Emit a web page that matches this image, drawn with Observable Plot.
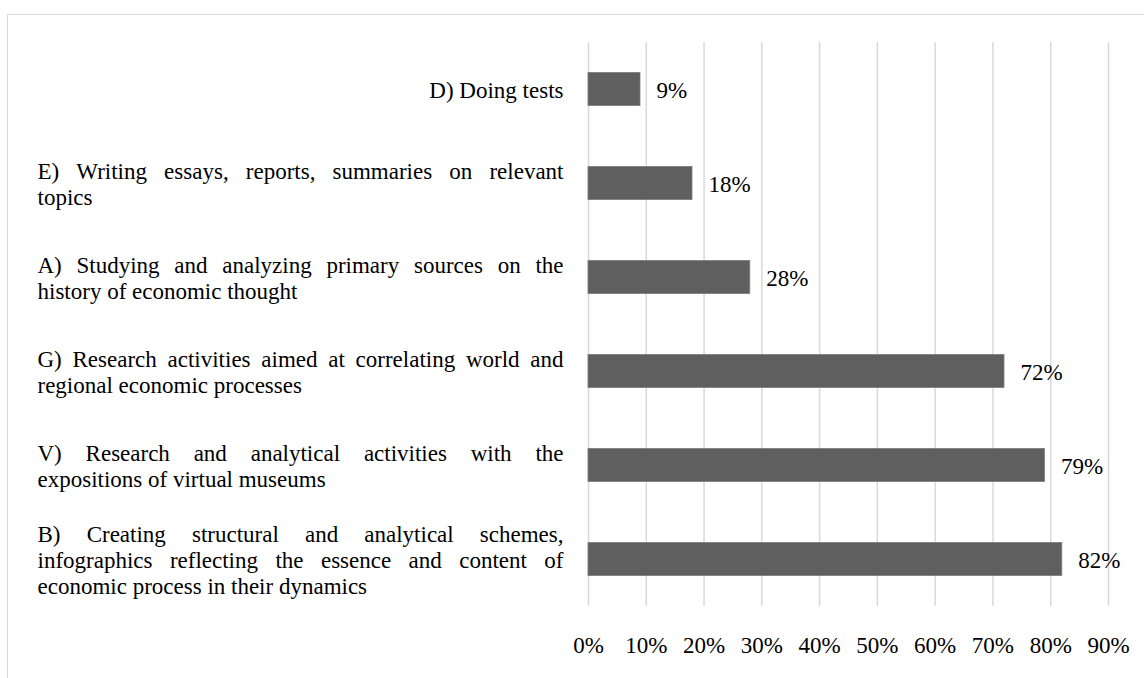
<!DOCTYPE html>
<html>
<head>
<meta charset="utf-8">
<script src="https://cdn.jsdelivr.net/npm/d3@7"></script>
<script src="https://cdn.jsdelivr.net/npm/@observablehq/plot@0.6"></script>
<style>
  html, body { margin: 0; padding: 0; background: #fff; overflow: hidden; }
  #wrap { position: relative; width: 1144px; height: 678px; overflow: hidden; }
  #frame { position: absolute; left: 7px; top: 14px; width: 2000px; height: 2000px;
           border: 1.5px solid #d9d9d9; box-sizing: border-box; pointer-events: none; }
  #chart { position: absolute; left: 0; top: 0; }
</style>
</head>
<body>
<div id="wrap"><div id="frame"></div><div id="chart"></div></div>
<script>
const categories = [
  "D) Doing tests",
  "E) Writing essays, reports, summaries on relevant\ntopics",
  "A) Studying and analyzing primary sources on the\nhistory of economic thought",
  "G) Research activities aimed at correlating world and\nregional economic processes",
  "V) Research and analytical activities with the\nexpositions of virtual museums",
  "B) Creating structural and analytical schemes,\ninfographics reflecting the essence and content of\neconomic process in their dynamics"
];
const values = [0.09, 0.18, 0.28, 0.72, 0.79, 0.82];
const xTicks = [0, 0.1, 0.2, 0.3, 0.4, 0.5, 0.6, 0.7, 0.8, 0.9];

const data = categories.map((c, i) => ({category: c, value: values[i]}));
const serif = "Liberation Serif";
const fs = 23;

const chart = Plot.plot({
  width: 1144,
  height: 678,
  marginLeft: 588,
  marginRight: 36,
  marginTop: 42,
  marginBottom: 72,
  style: {"font-family": serif, "font-size": fs + "px", "color": "#000", "background": "transparent"},
  x: {domain: [0, 0.9], ticks: xTicks, tickFormat: d3.format(".0%")},
  y: {domain: categories, padding: 0, axis: null},
  marks: [
    Plot.ruleX(xTicks, {stroke: "#d9d9d9", strokeWidth: 1.5}),
    Plot.barX(data, {x: "value", y: "category", fill: "#5f5f5f", stroke: "#7a7a7a", strokeWidth: 0.8, insetTop: 30.5, insetBottom: 30.5}),
    Plot.text(data, {x: "value", y: "category", text: d => d3.format(".0%")(d.value), textAnchor: "start", dx: 16, dy: 1, fontSize: fs, fontFamily: serif, fill: "#000"}),
    Plot.text(data, {y: "category", text: "category", frameAnchor: "left", textAnchor: "end", dx: -25, dy: 0, lineHeight: 1.15, fontSize: fs, fontFamily: serif, fill: "#000"}),
    Plot.axisX({ticks: xTicks, tickFormat: d3.format(".0%"), tickSize: 0, tickPadding: 30, fontSize: fs, fontFamily: serif, fill: "#000", label: null})
  ]
});

document.getElementById("chart").appendChild(chart);

// Justify multi-line category labels: full lines spread to the block width, last line left-aligned
const targetWidth = 526;
const NS = "http://www.w3.org/2000/svg";
Array.from(chart.querySelectorAll("text")).forEach(t => {
  const spans = Array.from(t.querySelectorAll("tspan"));
  if (spans.length < 2) return;
  spans.forEach((s, i) => {
    if (i === spans.length - 1) {
      s.setAttribute("x", -targetWidth);
      s.setAttribute("text-anchor", "start");
      s.style.textAnchor = "start";
      return;
    }
    const txt = s.textContent;
    const words = txt.split(" ");
    if (words.length < 2) return;
    const widths = [];
    let idx = 0;
    words.forEach(w => { widths.push(s.getSubStringLength(idx, w.length)); idx += w.length + 1; });
    const sumW = widths.reduce((a, b) => a + b, 0);
    const gap = (targetWidth - sumW) / (words.length - 1);
    if (!(gap > 0) || !isFinite(gap)) return;
    const yAttr = s.getAttribute("y");
    const dyAttr = s.getAttribute("dy");
    const xs = new Array(words.length);
    let right = 0;
    for (let j = words.length - 1; j >= 0; j--) { xs[j] = right; right -= widths[j] + gap; }
    words.forEach((w, j) => {
      const ts = document.createElementNS(NS, "tspan");
      ts.setAttribute("x", xs[j]);
      if (yAttr != null) ts.setAttribute("y", yAttr);
      else if (j === 0 && dyAttr != null) ts.setAttribute("dy", dyAttr);
      ts.textContent = w;
      t.insertBefore(ts, s);
    });
    t.removeChild(s);
  });
});
</script>
</body>
</html>
